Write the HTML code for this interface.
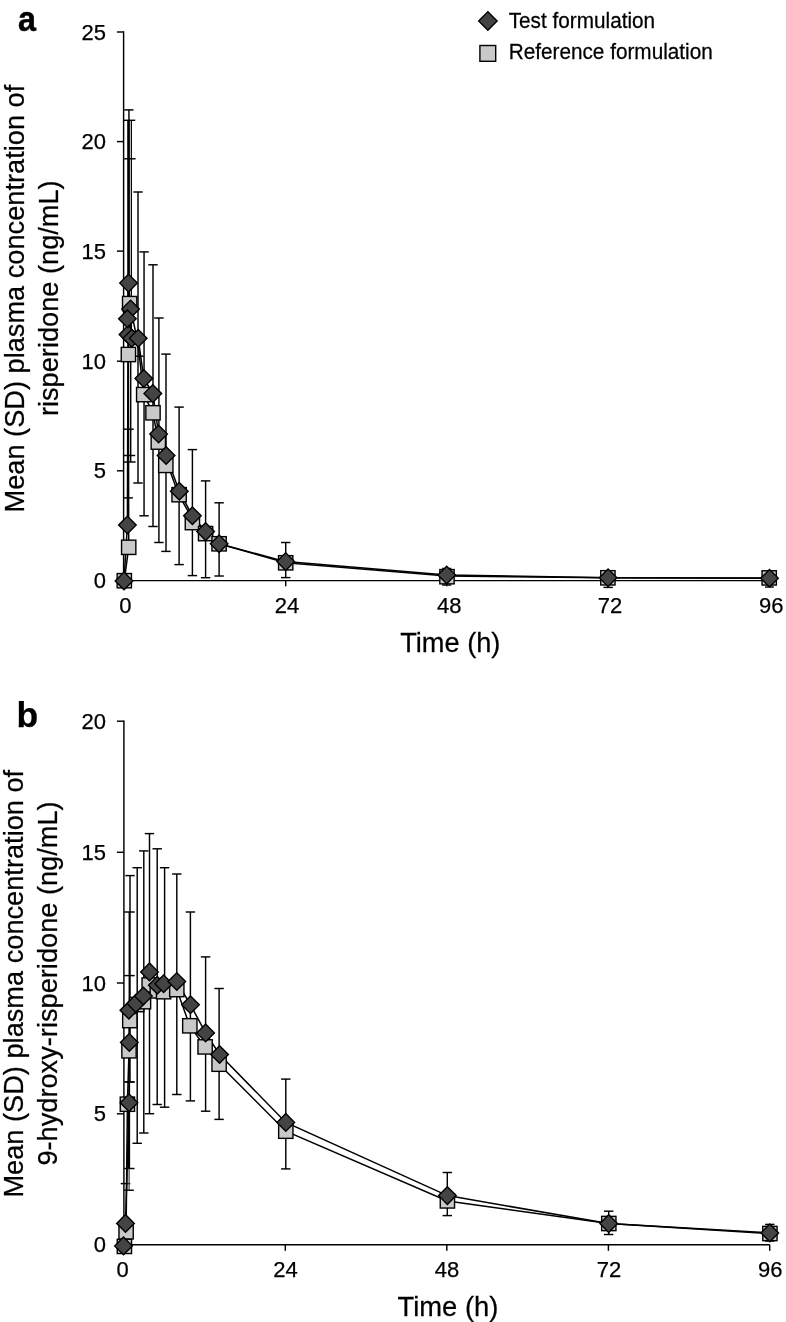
<!DOCTYPE html>
<html><head><meta charset="utf-8"><title>Figure</title>
<style>html,body{margin:0;padding:0;background:#fff;}svg{display:block;will-change:transform;}</style></head>
<body><svg width="786" height="1322" viewBox="0 0 786 1322" shape-rendering="geometricPrecision">
<rect width="786" height="1322" fill="#ffffff"/>
<text transform="translate(18.1,30.9) scale(0.91,1)" font-size="35.5" font-weight="bold" stroke="#000" stroke-width="0.5" font-family="Liberation Sans, sans-serif" fill="#000">a</text>
<text transform="translate(16.50,726.60) scale(1,1.0)" font-size="35.5" text-anchor="start" font-weight="bold" font-family="Liberation Sans, sans-serif" fill="#000" stroke="#000" stroke-width="0.25" >b</text>
<polygon points="487.90,11.80 497.10,21.00 487.90,30.20 478.70,21.00" fill="#444444" stroke="#000000" stroke-width="1.4"/>
<rect x="479.90" y="45.50" width="15.8" height="15.8" fill="#c9c9c9" stroke="#000000" stroke-width="1.4"/>
<text transform="translate(508.70,27.70) scale(1,1.035)" font-size="20.75" text-anchor="start" font-weight="normal" font-family="Liberation Sans, sans-serif" fill="#000" stroke="#000" stroke-width="0.25" >Test formulation</text>
<text transform="translate(508.70,58.80) scale(1,1.035)" font-size="20.75" text-anchor="start" font-weight="normal" font-family="Liberation Sans, sans-serif" fill="#000" stroke="#000" stroke-width="0.25" >Reference formulation</text>
<text transform="translate(450.30,652.00) scale(1,1.035)" font-size="27.2" text-anchor="middle" font-weight="normal" font-family="Liberation Sans, sans-serif" fill="#000" stroke="#000" stroke-width="0.25" >Time (h)</text>
<text transform="translate(447.90,1315.70) scale(1,1.035)" font-size="27.4" text-anchor="middle" font-weight="normal" font-family="Liberation Sans, sans-serif" fill="#000" stroke="#000" stroke-width="0.25" >Time (h)</text>
<text transform="translate(24,298.6) rotate(-90) scale(1,1.035)" font-size="27.2" text-anchor="middle" font-family="Liberation Sans, sans-serif" fill="#000" stroke="#000" stroke-width="0.25">Mean (SD) plasma concentration of</text>
<text transform="translate(58,298.2) rotate(-90) scale(1,1.035)" font-size="27.2" text-anchor="middle" font-family="Liberation Sans, sans-serif" fill="#000" stroke="#000" stroke-width="0.25">risperidone (ng/mL)</text>
<text transform="translate(23.2,983.7) rotate(-90) scale(1,1.035)" font-size="27.2" text-anchor="middle" font-family="Liberation Sans, sans-serif" fill="#000" stroke="#000" stroke-width="0.25">Mean (SD) plasma concentration of</text>
<text transform="translate(57.4,983.5) rotate(-90) scale(1,1.035)" font-size="27.2" text-anchor="middle" font-family="Liberation Sans, sans-serif" fill="#000" stroke="#000" stroke-width="0.25">9-hydroxy-risperidone (ng/mL)</text>
<line x1="123.60" y1="31.35" x2="123.60" y2="580.60" stroke="#000" stroke-width="1.45"/>
<line x1="123.60" y1="580.60" x2="769.70" y2="580.60" stroke="#000" stroke-width="1.45"/>
<line x1="116.90" y1="32.00" x2="123.60" y2="32.00" stroke="#000" stroke-width="1.45"/>
<text transform="translate(106.00,39.50) scale(1,1.0)" font-size="22" text-anchor="end" font-weight="normal" font-family="Liberation Sans, sans-serif" fill="#000" stroke="#000" stroke-width="0.25" >25</text>
<line x1="116.90" y1="141.60" x2="123.60" y2="141.60" stroke="#000" stroke-width="1.45"/>
<text transform="translate(106.00,149.10) scale(1,1.0)" font-size="22" text-anchor="end" font-weight="normal" font-family="Liberation Sans, sans-serif" fill="#000" stroke="#000" stroke-width="0.25" >20</text>
<line x1="116.90" y1="251.10" x2="123.60" y2="251.10" stroke="#000" stroke-width="1.45"/>
<text transform="translate(106.00,258.60) scale(1,1.0)" font-size="22" text-anchor="end" font-weight="normal" font-family="Liberation Sans, sans-serif" fill="#000" stroke="#000" stroke-width="0.25" >15</text>
<line x1="116.90" y1="361.20" x2="123.60" y2="361.20" stroke="#000" stroke-width="1.45"/>
<text transform="translate(106.00,368.70) scale(1,1.0)" font-size="22" text-anchor="end" font-weight="normal" font-family="Liberation Sans, sans-serif" fill="#000" stroke="#000" stroke-width="0.25" >10</text>
<line x1="116.90" y1="470.80" x2="123.60" y2="470.80" stroke="#000" stroke-width="1.45"/>
<text transform="translate(106.00,478.30) scale(1,1.0)" font-size="22" text-anchor="end" font-weight="normal" font-family="Liberation Sans, sans-serif" fill="#000" stroke="#000" stroke-width="0.25" >5</text>
<line x1="116.90" y1="580.60" x2="123.60" y2="580.60" stroke="#000" stroke-width="1.45"/>
<text transform="translate(106.00,588.10) scale(1,1.0)" font-size="22" text-anchor="end" font-weight="normal" font-family="Liberation Sans, sans-serif" fill="#000" stroke="#000" stroke-width="0.25" >0</text>
<text transform="translate(125.30,613.40) scale(1,1.0)" font-size="22" text-anchor="middle" font-weight="normal" font-family="Liberation Sans, sans-serif" fill="#000" stroke="#000" stroke-width="0.25" >0</text>
<line x1="285.70" y1="580.60" x2="285.70" y2="586.30" stroke="#000" stroke-width="1.45"/>
<text transform="translate(286.90,613.40) scale(1,1.0)" font-size="22" text-anchor="middle" font-weight="normal" font-family="Liberation Sans, sans-serif" fill="#000" stroke="#000" stroke-width="0.25" >24</text>
<line x1="446.70" y1="580.60" x2="446.70" y2="586.30" stroke="#000" stroke-width="1.45"/>
<text transform="translate(449.30,613.40) scale(1,1.0)" font-size="22" text-anchor="middle" font-weight="normal" font-family="Liberation Sans, sans-serif" fill="#000" stroke="#000" stroke-width="0.25" >48</text>
<line x1="608.20" y1="580.60" x2="608.20" y2="586.30" stroke="#000" stroke-width="1.45"/>
<text transform="translate(610.10,613.40) scale(1,1.0)" font-size="22" text-anchor="middle" font-weight="normal" font-family="Liberation Sans, sans-serif" fill="#000" stroke="#000" stroke-width="0.25" >72</text>
<line x1="769.70" y1="580.60" x2="769.70" y2="586.30" stroke="#000" stroke-width="1.45"/>
<text transform="translate(771.30,613.40) scale(1,1.0)" font-size="22" text-anchor="middle" font-weight="normal" font-family="Liberation Sans, sans-serif" fill="#000" stroke="#000" stroke-width="0.25" >96</text>
<line x1="123.90" y1="720.55" x2="123.90" y2="1244.70" stroke="#000" stroke-width="1.45"/>
<line x1="123.90" y1="1244.70" x2="769.70" y2="1244.70" stroke="#000" stroke-width="1.45"/>
<line x1="116.90" y1="721.20" x2="123.90" y2="721.20" stroke="#000" stroke-width="1.45"/>
<text transform="translate(106.00,728.70) scale(1,1.0)" font-size="22" text-anchor="end" font-weight="normal" font-family="Liberation Sans, sans-serif" fill="#000" stroke="#000" stroke-width="0.25" >20</text>
<line x1="116.90" y1="852.30" x2="123.90" y2="852.30" stroke="#000" stroke-width="1.45"/>
<text transform="translate(106.00,859.80) scale(1,1.0)" font-size="22" text-anchor="end" font-weight="normal" font-family="Liberation Sans, sans-serif" fill="#000" stroke="#000" stroke-width="0.25" >15</text>
<line x1="116.90" y1="983.00" x2="123.90" y2="983.00" stroke="#000" stroke-width="1.45"/>
<text transform="translate(106.00,990.50) scale(1,1.0)" font-size="22" text-anchor="end" font-weight="normal" font-family="Liberation Sans, sans-serif" fill="#000" stroke="#000" stroke-width="0.25" >10</text>
<line x1="116.90" y1="1113.80" x2="123.90" y2="1113.80" stroke="#000" stroke-width="1.45"/>
<text transform="translate(106.00,1121.30) scale(1,1.0)" font-size="22" text-anchor="end" font-weight="normal" font-family="Liberation Sans, sans-serif" fill="#000" stroke="#000" stroke-width="0.25" >5</text>
<line x1="116.90" y1="1244.70" x2="123.90" y2="1244.70" stroke="#000" stroke-width="1.45"/>
<text transform="translate(106.00,1252.20) scale(1,1.0)" font-size="22" text-anchor="end" font-weight="normal" font-family="Liberation Sans, sans-serif" fill="#000" stroke="#000" stroke-width="0.25" >0</text>
<text transform="translate(122.70,1276.80) scale(1,1.0)" font-size="22" text-anchor="middle" font-weight="normal" font-family="Liberation Sans, sans-serif" fill="#000" stroke="#000" stroke-width="0.25" >0</text>
<line x1="285.30" y1="1244.70" x2="285.30" y2="1250.80" stroke="#000" stroke-width="1.45"/>
<text transform="translate(285.50,1276.80) scale(1,1.0)" font-size="22" text-anchor="middle" font-weight="normal" font-family="Liberation Sans, sans-serif" fill="#000" stroke="#000" stroke-width="0.25" >24</text>
<line x1="446.80" y1="1244.70" x2="446.80" y2="1250.80" stroke="#000" stroke-width="1.45"/>
<text transform="translate(447.00,1276.80) scale(1,1.0)" font-size="22" text-anchor="middle" font-weight="normal" font-family="Liberation Sans, sans-serif" fill="#000" stroke="#000" stroke-width="0.25" >48</text>
<line x1="608.40" y1="1244.70" x2="608.40" y2="1250.80" stroke="#000" stroke-width="1.45"/>
<text transform="translate(608.90,1276.80) scale(1,1.0)" font-size="22" text-anchor="middle" font-weight="normal" font-family="Liberation Sans, sans-serif" fill="#000" stroke="#000" stroke-width="0.25" >72</text>
<line x1="769.70" y1="1244.70" x2="769.70" y2="1250.80" stroke="#000" stroke-width="1.45"/>
<text transform="translate(770.20,1276.80) scale(1,1.0)" font-size="22" text-anchor="middle" font-weight="normal" font-family="Liberation Sans, sans-serif" fill="#000" stroke="#000" stroke-width="0.25" >96</text>
<line x1="128.95" y1="109.90" x2="128.95" y2="121.00" stroke="#000" stroke-width="1.45"/>
<line x1="124.20" y1="109.90" x2="133.50" y2="109.90" stroke="#000" stroke-width="1.45"/>
<line x1="123.40" y1="120.30" x2="135.30" y2="120.30" stroke="#000" stroke-width="1.45"/>
<rect x="127.2" y="120.3" width="2.7" height="198" fill="#000"/>
<line x1="131.35" y1="120.30" x2="131.35" y2="309.00" stroke="#000" stroke-width="1.25"/>
<line x1="124.20" y1="158.80" x2="135.60" y2="158.80" stroke="#000" stroke-width="1.45"/>
<line x1="130.70" y1="309.00" x2="130.70" y2="462.00" stroke="#000" stroke-width="1.45"/>
<line x1="123.60" y1="429.20" x2="133.70" y2="429.20" stroke="#000" stroke-width="1.45"/>
<line x1="123.60" y1="455.50" x2="135.20" y2="455.50" stroke="#000" stroke-width="1.45"/>
<line x1="123.60" y1="462.00" x2="135.60" y2="462.00" stroke="#000" stroke-width="1.45"/>
<line x1="123.60" y1="497.90" x2="132.90" y2="497.90" stroke="#000" stroke-width="1.45"/>
<line x1="132.20" y1="356.20" x2="143.60" y2="356.20" stroke="#000" stroke-width="1.45"/>
<line x1="138.00" y1="192.00" x2="138.00" y2="483.00" stroke="#000" stroke-width="1.45"/>
<line x1="133.30" y1="192.00" x2="142.70" y2="192.00" stroke="#000" stroke-width="1.45"/>
<line x1="133.30" y1="483.00" x2="142.70" y2="483.00" stroke="#000" stroke-width="1.45"/>
<line x1="144.05" y1="251.90" x2="144.05" y2="515.80" stroke="#000" stroke-width="1.45"/>
<line x1="139.35" y1="251.90" x2="148.75" y2="251.90" stroke="#000" stroke-width="1.45"/>
<line x1="139.35" y1="515.80" x2="148.75" y2="515.80" stroke="#000" stroke-width="1.45"/>
<line x1="153.00" y1="264.80" x2="153.00" y2="526.50" stroke="#000" stroke-width="1.45"/>
<line x1="148.30" y1="264.80" x2="157.70" y2="264.80" stroke="#000" stroke-width="1.45"/>
<line x1="148.30" y1="526.50" x2="157.70" y2="526.50" stroke="#000" stroke-width="1.45"/>
<line x1="158.90" y1="318.00" x2="158.90" y2="542.50" stroke="#000" stroke-width="1.45"/>
<line x1="154.20" y1="318.00" x2="163.60" y2="318.00" stroke="#000" stroke-width="1.45"/>
<line x1="154.20" y1="542.50" x2="163.60" y2="542.50" stroke="#000" stroke-width="1.45"/>
<line x1="166.00" y1="354.10" x2="166.00" y2="551.40" stroke="#000" stroke-width="1.45"/>
<line x1="161.30" y1="354.10" x2="170.70" y2="354.10" stroke="#000" stroke-width="1.45"/>
<line x1="161.30" y1="551.40" x2="170.70" y2="551.40" stroke="#000" stroke-width="1.45"/>
<line x1="179.10" y1="407.10" x2="179.10" y2="564.60" stroke="#000" stroke-width="1.45"/>
<line x1="174.40" y1="407.10" x2="183.80" y2="407.10" stroke="#000" stroke-width="1.45"/>
<line x1="174.40" y1="564.60" x2="183.80" y2="564.60" stroke="#000" stroke-width="1.45"/>
<line x1="192.40" y1="449.60" x2="192.40" y2="575.60" stroke="#000" stroke-width="1.45"/>
<line x1="187.70" y1="449.60" x2="197.10" y2="449.60" stroke="#000" stroke-width="1.45"/>
<line x1="187.70" y1="575.60" x2="197.10" y2="575.60" stroke="#000" stroke-width="1.45"/>
<line x1="205.60" y1="480.90" x2="205.60" y2="577.70" stroke="#000" stroke-width="1.45"/>
<line x1="200.90" y1="480.90" x2="210.30" y2="480.90" stroke="#000" stroke-width="1.45"/>
<line x1="200.90" y1="577.70" x2="210.30" y2="577.70" stroke="#000" stroke-width="1.45"/>
<line x1="219.10" y1="502.80" x2="219.10" y2="576.00" stroke="#000" stroke-width="1.45"/>
<line x1="214.40" y1="502.80" x2="223.80" y2="502.80" stroke="#000" stroke-width="1.45"/>
<line x1="214.40" y1="576.00" x2="223.80" y2="576.00" stroke="#000" stroke-width="1.45"/>
<line x1="285.70" y1="542.50" x2="285.70" y2="577.60" stroke="#000" stroke-width="1.45"/>
<line x1="281.00" y1="542.50" x2="290.40" y2="542.50" stroke="#000" stroke-width="1.45"/>
<line x1="281.00" y1="577.60" x2="290.40" y2="577.60" stroke="#000" stroke-width="1.45"/>
<line x1="446.70" y1="568.50" x2="446.70" y2="585.00" stroke="#000" stroke-width="1.45"/>
<line x1="442.10" y1="568.50" x2="451.30" y2="568.50" stroke="#000" stroke-width="1.45"/>
<line x1="442.10" y1="585.00" x2="451.30" y2="585.00" stroke="#000" stroke-width="1.45"/>
<line x1="608.10" y1="571.00" x2="608.10" y2="587.40" stroke="#000" stroke-width="1.45"/>
<line x1="603.40" y1="571.00" x2="612.80" y2="571.00" stroke="#000" stroke-width="1.45"/>
<line x1="603.40" y1="587.40" x2="612.80" y2="587.40" stroke="#000" stroke-width="1.45"/>
<line x1="769.40" y1="572.00" x2="769.40" y2="587.00" stroke="#000" stroke-width="1.45"/>
<line x1="765.00" y1="572.00" x2="773.80" y2="572.00" stroke="#000" stroke-width="1.45"/>
<line x1="765.00" y1="587.00" x2="773.80" y2="587.00" stroke="#000" stroke-width="1.45"/>
<polyline points="124.30,580.70 128.70,547.30 128.40,354.50 129.65,303.60 137.90,343.00 143.70,394.60 153.00,412.80 158.30,442.10 168.00,465.40 178.60,494.40 194.50,522.60 205.60,533.60 219.10,543.80 285.70,562.80 447.00,576.00 607.90,577.80 769.20,577.90" fill="none" stroke="#000" stroke-width="1.5" stroke-linejoin="miter"/>
<polyline points="124.00,580.90 127.40,525.00 128.00,334.50 127.40,318.80 128.55,283.10 130.60,309.10 131.75,338.30 138.20,338.30 143.80,378.50 152.80,393.60 158.60,434.00 166.10,455.50 179.30,491.20 192.40,515.80 205.60,531.60 219.10,543.80 285.70,561.60 446.70,575.00 608.10,577.70 769.50,578.20" fill="none" stroke="#000" stroke-width="1.5" stroke-linejoin="miter"/>
<rect x="117.15" y="573.55" width="14.3" height="14.3" fill="#c9c9c9" stroke="#000000" stroke-width="1.4"/>
<rect x="121.55" y="540.15" width="14.3" height="14.3" fill="#c9c9c9" stroke="#000000" stroke-width="1.4"/>
<rect x="121.25" y="347.35" width="14.3" height="14.3" fill="#c9c9c9" stroke="#000000" stroke-width="1.4"/>
<rect x="122.50" y="296.45" width="14.3" height="14.3" fill="#c9c9c9" stroke="#000000" stroke-width="1.4"/>
<rect x="136.55" y="387.45" width="14.3" height="14.3" fill="#c9c9c9" stroke="#000000" stroke-width="1.4"/>
<rect x="145.85" y="405.65" width="14.3" height="14.3" fill="#c9c9c9" stroke="#000000" stroke-width="1.4"/>
<rect x="151.15" y="434.95" width="14.3" height="14.3" fill="#c9c9c9" stroke="#000000" stroke-width="1.4"/>
<rect x="158.65" y="458.25" width="14.3" height="14.3" fill="#c9c9c9" stroke="#000000" stroke-width="1.4"/>
<rect x="171.95" y="487.55" width="14.3" height="14.3" fill="#c9c9c9" stroke="#000000" stroke-width="1.4"/>
<rect x="185.25" y="515.45" width="14.3" height="14.3" fill="#c9c9c9" stroke="#000000" stroke-width="1.4"/>
<rect x="198.45" y="526.45" width="14.3" height="14.3" fill="#c9c9c9" stroke="#000000" stroke-width="1.4"/>
<rect x="211.95" y="536.65" width="14.3" height="14.3" fill="#c9c9c9" stroke="#000000" stroke-width="1.4"/>
<rect x="278.55" y="555.65" width="14.3" height="14.3" fill="#c9c9c9" stroke="#000000" stroke-width="1.4"/>
<rect x="439.85" y="569.55" width="14.3" height="14.3" fill="#c9c9c9" stroke="#000000" stroke-width="1.4"/>
<rect x="600.75" y="570.65" width="14.3" height="14.3" fill="#c9c9c9" stroke="#000000" stroke-width="1.4"/>
<rect x="762.05" y="570.75" width="14.3" height="14.3" fill="#c9c9c9" stroke="#000000" stroke-width="1.4"/>
<polygon points="124.00,572.10 132.80,580.90 124.00,589.70 115.20,580.90" fill="#444444" stroke="#000000" stroke-width="1.4"/>
<polygon points="127.40,516.20 136.20,525.00 127.40,533.80 118.60,525.00" fill="#444444" stroke="#000000" stroke-width="1.4"/>
<polygon points="128.00,325.70 136.80,334.50 128.00,343.30 119.20,334.50" fill="#444444" stroke="#000000" stroke-width="1.4"/>
<polygon points="128.55,274.30 137.35,283.10 128.55,291.90 119.75,283.10" fill="#444444" stroke="#000000" stroke-width="1.4"/>
<polygon points="130.60,300.30 139.40,309.10 130.60,317.90 121.80,309.10" fill="#444444" stroke="#000000" stroke-width="1.4"/>
<polygon points="127.40,310.00 136.20,318.80 127.40,327.60 118.60,318.80" fill="#444444" stroke="#000000" stroke-width="1.4"/>
<polygon points="131.75,329.50 140.55,338.30 131.75,347.10 122.95,338.30" fill="#444444" stroke="#000000" stroke-width="1.4"/>
<polygon points="138.20,329.50 147.00,338.30 138.20,347.10 129.40,338.30" fill="#444444" stroke="#000000" stroke-width="1.4"/>
<polygon points="143.80,369.70 152.60,378.50 143.80,387.30 135.00,378.50" fill="#444444" stroke="#000000" stroke-width="1.4"/>
<polygon points="152.80,384.80 161.60,393.60 152.80,402.40 144.00,393.60" fill="#444444" stroke="#000000" stroke-width="1.4"/>
<polygon points="158.60,425.20 167.40,434.00 158.60,442.80 149.80,434.00" fill="#444444" stroke="#000000" stroke-width="1.4"/>
<polygon points="166.10,446.70 174.90,455.50 166.10,464.30 157.30,455.50" fill="#444444" stroke="#000000" stroke-width="1.4"/>
<polygon points="179.30,482.40 188.10,491.20 179.30,500.00 170.50,491.20" fill="#444444" stroke="#000000" stroke-width="1.4"/>
<polygon points="192.40,507.00 201.20,515.80 192.40,524.60 183.60,515.80" fill="#444444" stroke="#000000" stroke-width="1.4"/>
<polygon points="205.60,522.80 214.40,531.60 205.60,540.40 196.80,531.60" fill="#444444" stroke="#000000" stroke-width="1.4"/>
<polygon points="219.10,535.00 227.90,543.80 219.10,552.60 210.30,543.80" fill="#444444" stroke="#000000" stroke-width="1.4"/>
<polygon points="285.70,552.80 294.50,561.60 285.70,570.40 276.90,561.60" fill="#444444" stroke="#000000" stroke-width="1.4"/>
<polygon points="446.70,566.20 455.50,575.00 446.70,583.80 437.90,575.00" fill="#444444" stroke="#000000" stroke-width="1.4"/>
<polygon points="608.10,568.90 616.90,577.70 608.10,586.50 599.30,577.70" fill="#444444" stroke="#000000" stroke-width="1.4"/>
<polygon points="769.50,569.40 778.30,578.20 769.50,587.00 760.70,578.20" fill="#444444" stroke="#000000" stroke-width="1.4"/>
<line x1="130.00" y1="875.60" x2="130.00" y2="1082.00" stroke="#000" stroke-width="1.45"/>
<line x1="125.30" y1="875.60" x2="134.70" y2="875.60" stroke="#000" stroke-width="1.45"/>
<line x1="125.30" y1="1082.00" x2="134.70" y2="1082.00" stroke="#000" stroke-width="1.45"/>
<line x1="137.20" y1="867.70" x2="137.20" y2="1143.30" stroke="#000" stroke-width="1.45"/>
<line x1="132.50" y1="867.70" x2="141.90" y2="867.70" stroke="#000" stroke-width="1.45"/>
<line x1="132.50" y1="1143.30" x2="141.90" y2="1143.30" stroke="#000" stroke-width="1.45"/>
<line x1="143.80" y1="850.90" x2="143.80" y2="1133.00" stroke="#000" stroke-width="1.45"/>
<line x1="139.10" y1="850.90" x2="148.50" y2="850.90" stroke="#000" stroke-width="1.45"/>
<line x1="139.10" y1="1133.00" x2="148.50" y2="1133.00" stroke="#000" stroke-width="1.45"/>
<line x1="149.50" y1="833.60" x2="149.50" y2="1113.70" stroke="#000" stroke-width="1.45"/>
<line x1="144.80" y1="833.60" x2="154.20" y2="833.60" stroke="#000" stroke-width="1.45"/>
<line x1="144.80" y1="1113.70" x2="154.20" y2="1113.70" stroke="#000" stroke-width="1.45"/>
<line x1="157.20" y1="848.80" x2="157.20" y2="1104.50" stroke="#000" stroke-width="1.45"/>
<line x1="152.50" y1="848.80" x2="161.90" y2="848.80" stroke="#000" stroke-width="1.45"/>
<line x1="152.50" y1="1104.50" x2="161.90" y2="1104.50" stroke="#000" stroke-width="1.45"/>
<line x1="164.60" y1="867.70" x2="164.60" y2="1107.20" stroke="#000" stroke-width="1.45"/>
<line x1="159.90" y1="867.70" x2="169.30" y2="867.70" stroke="#000" stroke-width="1.45"/>
<line x1="159.90" y1="1107.20" x2="169.30" y2="1107.20" stroke="#000" stroke-width="1.45"/>
<line x1="176.80" y1="874.00" x2="176.80" y2="1094.50" stroke="#000" stroke-width="1.45"/>
<line x1="172.10" y1="874.00" x2="181.50" y2="874.00" stroke="#000" stroke-width="1.45"/>
<line x1="172.10" y1="1094.50" x2="181.50" y2="1094.50" stroke="#000" stroke-width="1.45"/>
<line x1="190.40" y1="912.00" x2="190.40" y2="1100.90" stroke="#000" stroke-width="1.45"/>
<line x1="185.70" y1="912.00" x2="195.10" y2="912.00" stroke="#000" stroke-width="1.45"/>
<line x1="185.70" y1="1100.90" x2="195.10" y2="1100.90" stroke="#000" stroke-width="1.45"/>
<line x1="205.60" y1="956.90" x2="205.60" y2="1111.20" stroke="#000" stroke-width="1.45"/>
<line x1="200.90" y1="956.90" x2="210.30" y2="956.90" stroke="#000" stroke-width="1.45"/>
<line x1="200.90" y1="1111.20" x2="210.30" y2="1111.20" stroke="#000" stroke-width="1.45"/>
<line x1="219.10" y1="988.50" x2="219.10" y2="1119.40" stroke="#000" stroke-width="1.45"/>
<line x1="214.40" y1="988.50" x2="223.80" y2="988.50" stroke="#000" stroke-width="1.45"/>
<line x1="214.40" y1="1119.40" x2="223.80" y2="1119.40" stroke="#000" stroke-width="1.45"/>
<line x1="285.80" y1="1079.10" x2="285.80" y2="1168.90" stroke="#000" stroke-width="1.45"/>
<line x1="281.10" y1="1079.10" x2="290.50" y2="1079.10" stroke="#000" stroke-width="1.45"/>
<line x1="281.10" y1="1168.90" x2="290.50" y2="1168.90" stroke="#000" stroke-width="1.45"/>
<line x1="447.30" y1="1172.50" x2="447.30" y2="1215.60" stroke="#000" stroke-width="1.45"/>
<line x1="442.60" y1="1172.50" x2="452.00" y2="1172.50" stroke="#000" stroke-width="1.45"/>
<line x1="442.60" y1="1215.60" x2="452.00" y2="1215.60" stroke="#000" stroke-width="1.45"/>
<line x1="608.70" y1="1211.20" x2="608.70" y2="1234.50" stroke="#000" stroke-width="1.45"/>
<line x1="604.00" y1="1211.20" x2="613.40" y2="1211.20" stroke="#000" stroke-width="1.45"/>
<line x1="604.00" y1="1234.50" x2="613.40" y2="1234.50" stroke="#000" stroke-width="1.45"/>
<line x1="769.80" y1="1224.40" x2="769.80" y2="1241.00" stroke="#000" stroke-width="1.45"/>
<line x1="765.10" y1="1224.40" x2="774.50" y2="1224.40" stroke="#000" stroke-width="1.45"/>
<line x1="765.10" y1="1241.00" x2="774.50" y2="1241.00" stroke="#000" stroke-width="1.45"/>
<line x1="124.20" y1="912.00" x2="134.70" y2="912.00" stroke="#000" stroke-width="1.45"/>
<line x1="124.20" y1="975.60" x2="134.70" y2="975.60" stroke="#000" stroke-width="1.45"/>
<line x1="124.20" y1="1081.90" x2="134.50" y2="1081.90" stroke="#000" stroke-width="1.45"/>
<line x1="124.20" y1="1168.50" x2="134.50" y2="1168.50" stroke="#000" stroke-width="1.45"/>
<line x1="120.70" y1="1183.60" x2="130.30" y2="1183.60" stroke="#000" stroke-width="1.45"/>
<line x1="124.20" y1="1190.20" x2="133.80" y2="1190.20" stroke="#000" stroke-width="1.45"/>
<line x1="129.40" y1="1082.00" x2="129.40" y2="1168.60" stroke="#000" stroke-width="1.45"/>
<line x1="128.50" y1="1110.00" x2="128.50" y2="1168.60" stroke="#000" stroke-width="1.2"/>
<line x1="129.30" y1="912.00" x2="129.30" y2="1010.00" stroke="#000" stroke-width="1.45"/>
<line x1="129.30" y1="1168.60" x2="129.30" y2="1190.00" stroke="#444" stroke-width="0.9"/>
<line x1="128.00" y1="1168.60" x2="128.00" y2="1190.00" stroke="#555" stroke-width="0.9"/>
<polyline points="124.40,1246.40 126.10,1231.80 127.40,1104.20 129.00,1050.80 129.80,1020.60 136.70,1004.60 143.50,1001.70 149.20,985.00 157.30,990.90 163.60,991.70 176.80,989.60 189.80,1025.80 205.10,1046.90 219.10,1064.20 285.80,1131.20 447.40,1200.90 608.80,1223.50 769.90,1233.50" fill="none" stroke="#000" stroke-width="1.5" stroke-linejoin="miter"/>
<polyline points="123.50,1245.90 125.50,1223.40 129.00,1102.80 129.30,1042.40 128.90,1010.20 135.80,1003.40 143.40,996.00 149.50,971.90 157.30,985.30 163.60,983.80 176.80,981.50 190.50,1004.80 205.60,1032.90 219.60,1054.50 285.80,1122.40 447.40,1195.60 608.70,1223.60 769.80,1232.90" fill="none" stroke="#000" stroke-width="1.5" stroke-linejoin="miter"/>
<rect x="117.25" y="1239.25" width="14.3" height="14.3" fill="#c9c9c9" stroke="#000000" stroke-width="1.4"/>
<rect x="118.95" y="1224.65" width="14.3" height="14.3" fill="#c9c9c9" stroke="#000000" stroke-width="1.4"/>
<rect x="120.25" y="1097.05" width="14.3" height="14.3" fill="#c9c9c9" stroke="#000000" stroke-width="1.4"/>
<rect x="121.85" y="1043.65" width="14.3" height="14.3" fill="#c9c9c9" stroke="#000000" stroke-width="1.4"/>
<rect x="122.65" y="1013.45" width="14.3" height="14.3" fill="#c9c9c9" stroke="#000000" stroke-width="1.4"/>
<rect x="129.55" y="997.45" width="14.3" height="14.3" fill="#c9c9c9" stroke="#000000" stroke-width="1.4"/>
<rect x="136.35" y="994.55" width="14.3" height="14.3" fill="#c9c9c9" stroke="#000000" stroke-width="1.4"/>
<rect x="142.05" y="977.85" width="14.3" height="14.3" fill="#c9c9c9" stroke="#000000" stroke-width="1.4"/>
<rect x="150.15" y="983.75" width="14.3" height="14.3" fill="#c9c9c9" stroke="#000000" stroke-width="1.4"/>
<rect x="156.45" y="984.55" width="14.3" height="14.3" fill="#c9c9c9" stroke="#000000" stroke-width="1.4"/>
<rect x="169.65" y="982.45" width="14.3" height="14.3" fill="#c9c9c9" stroke="#000000" stroke-width="1.4"/>
<rect x="182.65" y="1018.65" width="14.3" height="14.3" fill="#c9c9c9" stroke="#000000" stroke-width="1.4"/>
<rect x="197.95" y="1039.75" width="14.3" height="14.3" fill="#c9c9c9" stroke="#000000" stroke-width="1.4"/>
<rect x="211.95" y="1057.05" width="14.3" height="14.3" fill="#c9c9c9" stroke="#000000" stroke-width="1.4"/>
<rect x="278.65" y="1124.05" width="14.3" height="14.3" fill="#c9c9c9" stroke="#000000" stroke-width="1.4"/>
<rect x="440.25" y="1193.75" width="14.3" height="14.3" fill="#c9c9c9" stroke="#000000" stroke-width="1.4"/>
<rect x="601.65" y="1216.35" width="14.3" height="14.3" fill="#c9c9c9" stroke="#000000" stroke-width="1.4"/>
<rect x="762.75" y="1226.35" width="14.3" height="14.3" fill="#c9c9c9" stroke="#000000" stroke-width="1.4"/>
<polygon points="123.50,1237.10 132.30,1245.90 123.50,1254.70 114.70,1245.90" fill="#444444" stroke="#000000" stroke-width="1.4"/>
<polygon points="125.50,1214.60 134.30,1223.40 125.50,1232.20 116.70,1223.40" fill="#444444" stroke="#000000" stroke-width="1.4"/>
<polygon points="129.00,1094.00 137.80,1102.80 129.00,1111.60 120.20,1102.80" fill="#444444" stroke="#000000" stroke-width="1.4"/>
<polygon points="129.30,1033.60 138.10,1042.40 129.30,1051.20 120.50,1042.40" fill="#444444" stroke="#000000" stroke-width="1.4"/>
<polygon points="128.90,1001.40 137.70,1010.20 128.90,1019.00 120.10,1010.20" fill="#444444" stroke="#000000" stroke-width="1.4"/>
<polygon points="135.80,994.60 144.60,1003.40 135.80,1012.20 127.00,1003.40" fill="#444444" stroke="#000000" stroke-width="1.4"/>
<polygon points="143.40,987.20 152.20,996.00 143.40,1004.80 134.60,996.00" fill="#444444" stroke="#000000" stroke-width="1.4"/>
<polygon points="149.50,963.10 158.30,971.90 149.50,980.70 140.70,971.90" fill="#444444" stroke="#000000" stroke-width="1.4"/>
<polygon points="157.30,976.50 166.10,985.30 157.30,994.10 148.50,985.30" fill="#444444" stroke="#000000" stroke-width="1.4"/>
<polygon points="163.60,975.00 172.40,983.80 163.60,992.60 154.80,983.80" fill="#444444" stroke="#000000" stroke-width="1.4"/>
<polygon points="176.80,972.70 185.60,981.50 176.80,990.30 168.00,981.50" fill="#444444" stroke="#000000" stroke-width="1.4"/>
<polygon points="190.50,996.00 199.30,1004.80 190.50,1013.60 181.70,1004.80" fill="#444444" stroke="#000000" stroke-width="1.4"/>
<polygon points="205.60,1024.10 214.40,1032.90 205.60,1041.70 196.80,1032.90" fill="#444444" stroke="#000000" stroke-width="1.4"/>
<polygon points="219.60,1045.70 228.40,1054.50 219.60,1063.30 210.80,1054.50" fill="#444444" stroke="#000000" stroke-width="1.4"/>
<polygon points="285.80,1113.60 294.60,1122.40 285.80,1131.20 277.00,1122.40" fill="#444444" stroke="#000000" stroke-width="1.4"/>
<polygon points="447.40,1186.80 456.20,1195.60 447.40,1204.40 438.60,1195.60" fill="#444444" stroke="#000000" stroke-width="1.4"/>
<polygon points="608.70,1214.80 617.50,1223.60 608.70,1232.40 599.90,1223.60" fill="#444444" stroke="#000000" stroke-width="1.4"/>
<polygon points="769.80,1224.10 778.60,1232.90 769.80,1241.70 761.00,1232.90" fill="#444444" stroke="#000000" stroke-width="1.4"/>
</svg></body></html>
